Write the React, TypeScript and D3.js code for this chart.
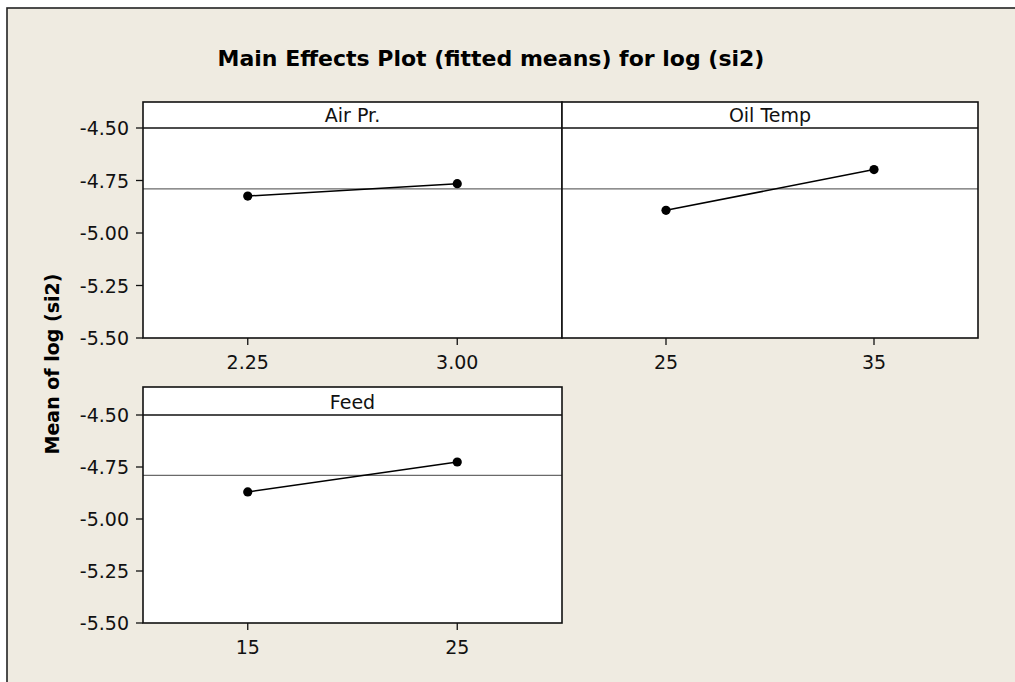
import React from "react";
import * as d3 from "d3";

const title = "Main Effects Plot (fitted means) for log (si2)";
const yLabel = "Mean of log (si2)";
const factors = ["Air Pr.", "Oil Temp", "Feed"];
const airLevels = [2.25, 3.0];
const airMeans = [-4.824, -4.765];
const oilLevels = [25, 35];
const oilMeans = [-4.892, -4.698];
const feedLevels = [15, 25];
const feedMeans = [-4.87, -4.726];
const grandMean = -4.79;
const yTicks = [-4.5, -4.75, -5.0, -5.25, -5.5];
const xTickLabels = [["2.25", "3.00"], ["25", "35"], ["15", "25"]];

const W = 1015;
const H = 682;
const BG = "#efebe1";
const FONT = "'DejaVu Sans', Verdana, sans-serif";

type Panel = {
  name: string;
  levels: number[];
  means: number[];
  labels: string[];
  x0: number;
  x1: number;
  top: number;
  dataTop: number;
  bottom: number;
  showY: boolean;
};

const panels: Panel[] = [
  { name: factors[0], levels: airLevels, means: airMeans, labels: xTickLabels[0], x0: 143, x1: 562, top: 102, dataTop: 128, bottom: 338, showY: true },
  { name: factors[1], levels: oilLevels, means: oilMeans, labels: xTickLabels[1], x0: 562, x1: 978, top: 102, dataTop: 128, bottom: 338, showY: false },
  { name: factors[2], levels: feedLevels, means: feedMeans, labels: xTickLabels[2], x0: 143, x1: 562, top: 387, dataTop: 415, bottom: 623, showY: true },
];

function PanelView({ p }: { p: Panel }) {
  const d = p.levels[1] - p.levels[0];
  const x = d3.scaleLinear().domain([p.levels[0] - d / 2, p.levels[1] + d / 2]).range([p.x0, p.x1]);
  const y = d3.scaleLinear().domain([-5.5, -4.5]).range([p.bottom, p.dataTop]);
  const line = d3
    .line<number>()
    .x((_, i) => x(p.levels[i]))
    .y((v) => y(v));
  return (
    <g>
      <rect x={p.x0} y={p.top} width={p.x1 - p.x0} height={p.bottom - p.top} fill="#fff" />
      <line x1={p.x0} x2={p.x1} y1={y(grandMean)} y2={y(grandMean)} stroke="#6a6a6a" strokeWidth={1.2} />
      <path d={line(p.means) || ""} fill="none" stroke="#000" strokeWidth={1.5} />
      {p.means.map((v, i) => (
        <circle key={i} cx={x(p.levels[i])} cy={y(v)} r={4.6} fill="#000" />
      ))}
      <line x1={p.x0} x2={p.x1} y1={p.dataTop} y2={p.dataTop} stroke="#111" strokeWidth={1.5} />
      <rect x={p.x0} y={p.top} width={p.x1 - p.x0} height={p.bottom - p.top} fill="none" stroke="#111" strokeWidth={1.6} />
      <text x={(p.x0 + p.x1) / 2} y={p.dataTop - 6} textAnchor="middle" fontFamily={FONT} fontSize={19} fill="#111">
        {p.name}
      </text>
      {p.levels.map((lv, i) => (
        <g key={i}>
          <line x1={x(lv)} x2={x(lv)} y1={p.bottom} y2={p.bottom + 7} stroke="#111" strokeWidth={1.3} />
          <text x={x(lv)} y={p.bottom + 31} textAnchor="middle" fontFamily={FONT} fontSize={19} fill="#111">
            {p.labels[i]}
          </text>
        </g>
      ))}
      {p.showY &&
        yTicks.map((t, i) => (
          <g key={i}>
            <line x1={p.x0 - 7} x2={p.x0} y1={y(t)} y2={y(t)} stroke="#111" strokeWidth={1.3} />
            <text x={p.x0 - 14} y={y(t) + 7} textAnchor="end" fontFamily={FONT} fontSize={19} fill="#111">
              {d3.format(".2f")(t).replace("−", "-")}
            </text>
          </g>
        ))}
    </g>
  );
}

export default function App() {
  return (
    <svg width={W} height={H} style={{ position: "absolute", left: 0, top: 0, background: "#fff" }}>
      <rect x={7} y={8} width={W + 20} height={H + 20} fill={BG} stroke="#222" strokeWidth={1.6} />
      <text x={491} y={66} textAnchor="middle" fontFamily={FONT} fontWeight="bold" fontSize={22} fill="#000">
        {title}
      </text>
      <text
        transform={`translate(59,364) rotate(-90)`}
        textAnchor="middle"
        fontFamily={FONT}
        fontWeight="bold"
        fontSize={19}
        fill="#000"
      >
        {yLabel}
      </text>
      {panels.map((p, i) => (
        <PanelView key={i} p={p} />
      ))}
    </svg>
  );
}
